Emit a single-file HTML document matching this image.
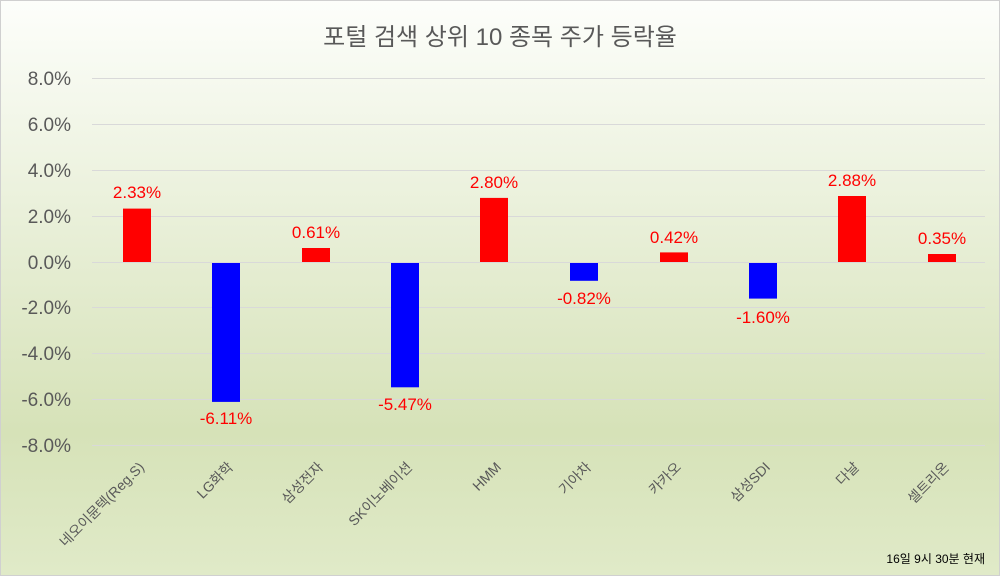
<!DOCTYPE html>
<html><head><meta charset="utf-8"><style>
html,body{margin:0;padding:0;}
body{width:1000px;height:576px;overflow:hidden;}
</style></head><body>
<svg width="1000" height="576" xmlns="http://www.w3.org/2000/svg" font-family="'Liberation Sans','Noto Sans CJK KR',sans-serif">
<defs><linearGradient id="bg" x1="0" y1="0" x2="0" y2="1">
<stop offset="0" stop-color="#fdfefb"/><stop offset="0.75" stop-color="#d6e2b8"/><stop offset="1" stop-color="#e0eac8"/></linearGradient></defs>
<rect x="0.5" y="0.5" width="999" height="575" fill="url(#bg)" stroke="#d0d0d0"/>
<text x="500" y="45" text-anchor="middle" font-size="24" fill="#595959">포털 검색 상위 10 종목 주가 등락율</text>
<g stroke="#d9d9d9" stroke-width="1">
<line x1="92" x2="985" y1="78.5" y2="78.5"/><line x1="92" x2="985" y1="124.5" y2="124.5"/>
<line x1="92" x2="985" y1="170.5" y2="170.5"/><line x1="92" x2="985" y1="216.5" y2="216.5"/>
<line x1="92" x2="985" y1="307.5" y2="307.5"/><line x1="92" x2="985" y1="353.5" y2="353.5"/>
<line x1="92" x2="985" y1="399.5" y2="399.5"/><line x1="92" x2="985" y1="445.5" y2="445.5"/>
</g>
<g font-size="19" fill="#595959" text-anchor="end">
<text x="71" y="85">8.0%</text><text x="71" y="131">6.0%</text><text x="71" y="177">4.0%</text><text x="71" y="223">2.0%</text>
<text x="71" y="269">0.0%</text><text x="71" y="314">-2.0%</text><text x="71" y="360">-4.0%</text><text x="71" y="406">-6.0%</text><text x="71" y="452">-8.0%</text>
</g>
<g>
<rect x="123" y="208.6" width="28" height="53.4" fill="#ff0000"/>
<rect x="212" y="262" width="28" height="139.9" fill="#0000ff"/>
<rect x="302" y="248" width="28" height="14" fill="#ff0000"/>
<rect x="391" y="262" width="28" height="125.3" fill="#0000ff"/>
<rect x="480" y="197.9" width="28" height="64.1" fill="#ff0000"/>
<rect x="570" y="262" width="28" height="18.8" fill="#0000ff"/>
<rect x="660" y="252.4" width="28" height="9.6" fill="#ff0000"/>
<rect x="749" y="262" width="28" height="36.6" fill="#0000ff"/>
<rect x="838" y="196" width="28" height="66" fill="#ff0000"/>
<rect x="928" y="254" width="28" height="8" fill="#ff0000"/>
</g>
<line x1="92" x2="985" y1="262.5" y2="262.5" stroke="#d9d9d9"/>
<g font-size="17" fill="#ff0000" text-anchor="middle">
<text x="137" y="198">2.33%</text><text x="226" y="424">-6.11%</text><text x="316" y="238">0.61%</text>
<text x="405" y="410">-5.47%</text><text x="494" y="188">2.80%</text><text x="584" y="304">-0.82%</text>
<text x="674" y="243">0.42%</text><text x="763" y="323">-1.60%</text><text x="852" y="186">2.88%</text><text x="942" y="244">0.35%</text>
</g>
<g font-size="14" fill="#595959" text-anchor="end">
<text transform="translate(145,468) rotate(-45)">네오이뮨텍(Reg.S)</text>
<text transform="translate(234,468) rotate(-45)">LG화학</text>
<text transform="translate(324,468) rotate(-45)">삼성전자</text>
<text transform="translate(413,468) rotate(-45)">SK이노베이션</text>
<text transform="translate(502,468) rotate(-45)">HMM</text>
<text transform="translate(592,468) rotate(-45)">기아차</text>
<text transform="translate(682,468) rotate(-45)">카카오</text>
<text transform="translate(771,468) rotate(-45)">삼성SDI</text>
<text transform="translate(860,468) rotate(-45)">다날</text>
<text transform="translate(950,468) rotate(-45)">셀트리온</text>
</g>
<text x="985" y="563" font-size="12" fill="#000" text-anchor="end">16일 9시 30분 현재</text>
</svg>
</body></html>
